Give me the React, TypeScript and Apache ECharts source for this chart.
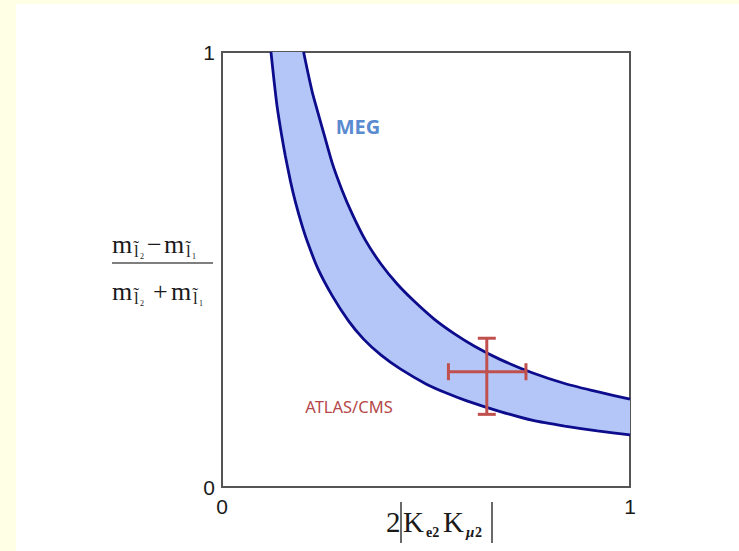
import { useEffect, useRef } from "react";
import * as echarts from "echarts";

// Axis ranges and the only tick values shown
const xTicks = [0, 1];
const yTicks = [0, 1];

// Inner (lower-left) edge of the MEG band: [2|Ke2 Kμ2|, mass ratio]
const megLower: [number, number][] = [
  [0.12, 1.0], [0.128, 0.93], [0.135, 0.875], [0.145, 0.815], [0.155, 0.762],
  [0.168, 0.702], [0.18, 0.655], [0.195, 0.605], [0.21, 0.562], [0.235, 0.502],
  [0.27, 0.44], [0.31, 0.382], [0.347, 0.34], [0.39, 0.303], [0.436, 0.272],
  [0.5, 0.237], [0.55, 0.216], [0.6, 0.198], [0.68, 0.174], [0.762, 0.153],
  [0.84, 0.14], [0.92, 0.129], [1.0, 0.12],
];

// Outer (upper-right) edge of the MEG band
const megUpper: [number, number][] = [
  [0.2, 1.0], [0.21, 0.955], [0.222, 0.905], [0.245, 0.828], [0.27, 0.745],
  [0.294, 0.683], [0.32, 0.626], [0.351, 0.568], [0.39, 0.512], [0.43, 0.466],
  [0.47, 0.428], [0.52, 0.386], [0.57, 0.352], [0.62, 0.323], [0.68, 0.294],
  [0.762, 0.262], [0.84, 0.238], [0.92, 0.219], [1.0, 0.202],
];

// ATLAS/CMS point: [x, y, xLow, xHigh, yLow, yHigh]
const atlasCms: number[][] = [[0.649, 0.265, 0.555, 0.745, 0.167, 0.342]];

const SERIF = '"Liberation Serif", "Times New Roman", serif';
const SANS = '"Liberation Sans", Arial, sans-serif';

function txt(
  text: string,
  x: number,
  y: number,
  size: number,
  extra: Record<string, any> = {}
) {
  const align = extra.align || "left";
  return {
    type: "text",
    x,
    y,
    z: 100,
    silent: true,
    style: {
      text,
      fill: extra.fill || "#1a1a1a",
      fontSize: size,
      fontFamily: extra.fontFamily || SERIF,
      fontWeight: extra.fontWeight || "normal",
      fontStyle: extra.fontStyle || "normal",
      align,
      textAlign: align,
      verticalAlign: "middle",
      textVerticalAlign: "middle",
    },
  };
}

function vbar(x: number, y1: number, y2: number) {
  return {
    type: "line",
    z: 100,
    silent: true,
    shape: { x1: x, y1, x2: x, y2 },
    style: { stroke: "#1a1a1a", lineWidth: 1.3 },
  };
}

// m with a tilde-l subscript and a tiny index
function massTerm(x: number, cy: number, idx: string) {
  return [
    txt("m", x, cy, 26),
    txt("l\u0303", x + 22, cy + 7, 17),
    txt(idx, x + 28, cy + 12, 8),
  ];
}

export default function App() {
  const ref = useRef<HTMLDivElement>(null);

  useEffect(() => {
    if (!ref.current) return;
    const chart = echarts.init(ref.current, undefined, { renderer: "svg" });

    const axisLabel = {
      fontSize: 21,
      color: "#1a1a1a",
      fontFamily: SANS,
    };

    chart.setOption({
      animation: false,
      backgroundColor: "#FFFFE6",
      grid: {
        left: 222,
        top: 52,
        width: 408,
        height: 435,
        show: true,
        borderColor: "#555555",
        borderWidth: 2,
        backgroundColor: "transparent",
      },
      xAxis: {
        type: "value",
        min: xTicks[0],
        max: xTicks[1],
        interval: 1,
        axisLine: { show: false },
        axisTick: { show: false },
        splitLine: { show: false },
        axisLabel: { ...axisLabel, margin: 9 },
      },
      yAxis: {
        type: "value",
        min: yTicks[0],
        max: yTicks[1],
        interval: 1,
        axisLine: { show: false },
        axisTick: { show: false },
        splitLine: { show: false },
        axisLabel: { ...axisLabel, margin: 7 },
      },
      series: [
        {
          type: "custom",
          name: "MEG band",
          silent: true,
          clip: true,
          z: 2,
          data: [[0, 0]],
          renderItem: (_params: any, api: any) => {
            const pts = megLower
              .concat([...megUpper].reverse())
              .map((p) => api.coord(p));
            return {
              type: "polygon",
              shape: { points: pts },
              style: { fill: "#B3C6F7", stroke: "none" },
            };
          },
        },
        {
          type: "line",
          name: "MEG lower",
          data: megLower,
          showSymbol: false,
          smooth: 0.2,
          silent: true,
          z: 3,
          lineStyle: { color: "#0C0C8C", width: 2.8 },
        },
        {
          type: "line",
          name: "MEG upper",
          data: megUpper,
          showSymbol: false,
          smooth: 0.2,
          silent: true,
          z: 3,
          lineStyle: { color: "#0C0C8C", width: 2.8 },
        },
        {
          type: "custom",
          name: "ATLAS/CMS",
          silent: true,
          z: 4,
          data: atlasCms,
          encode: { x: 0, y: 1 },
          renderItem: (_params: any, api: any) => {
            const cx = api.value(0);
            const cy = api.value(1);
            const l = api.coord([api.value(2), cy]);
            const r = api.coord([api.value(3), cy]);
            const b = api.coord([cx, api.value(4)]);
            const t = api.coord([cx, api.value(5)]);
            const style = { stroke: "#C0504D", lineWidth: 3 };
            const capH = 8.5;
            const capV = 9;
            return {
              type: "group",
              children: [
                { type: "line", shape: { x1: l[0], y1: l[1], x2: r[0], y2: r[1] }, style },
                { type: "line", shape: { x1: b[0], y1: b[1], x2: t[0], y2: t[1] }, style },
                { type: "line", shape: { x1: l[0], y1: l[1] - capH, x2: l[0], y2: l[1] + capH }, style },
                { type: "line", shape: { x1: r[0], y1: r[1] - capH, x2: r[0], y2: r[1] + capH }, style },
                { type: "line", shape: { x1: t[0] - capV, y1: t[1], x2: t[0] + capV, y2: t[1] }, style },
                { type: "line", shape: { x1: b[0] - capV, y1: b[1], x2: b[0] + capV, y2: b[1] }, style },
              ],
            };
          },
        },
      ],
      graphic: [
        {
          type: "rect",
          z: -10,
          silent: true,
          shape: { x: 16, y: 4, width: 723, height: 547 },
          style: { fill: "#FFFFFF" },
        },
        txt("MEG", 358, 126, 20, {
          align: "center",
          fill: "#5A8AD0",
          fontWeight: "bold",
          fontFamily: '"Noto Sans", sans-serif',
        }),
        txt("ATLAS/CMS", 349, 406, 16.5, {
          align: "center",
          fill: "#B5484A",
          fontFamily: '"Noto Sans", sans-serif',
        }),
        // y-axis title: mass-splitting ratio
        ...massTerm(112, 244, "2"),
        txt("\u2212", 147, 244, 26),
        ...massTerm(164, 244, "1"),
        {
          type: "line",
          z: 100,
          silent: true,
          shape: { x1: 112, y1: 263, x2: 213, y2: 263 },
          style: { stroke: "#555555", lineWidth: 1.5 },
        },
        ...massTerm(112, 291, "2"),
        txt("+", 153, 291, 26),
        ...massTerm(171, 291, "1"),
        // x-axis title: 2|Ke2 Kμ2|
        txt("2", 386, 522, 29),
        vbar(401, 502, 543),
        txt("K", 403, 522, 29),
        txt("e2", 426, 532, 14, { fontWeight: "bold" }),
        txt("K", 443, 522, 29),
        txt("\u03bc", 466, 532, 15, { fontStyle: "italic", fontWeight: "bold" }),
        txt("2", 475, 532, 14, { fontWeight: "bold" }),
        vbar(492, 502, 543),
      ],
    });

    return () => chart.dispose();
  }, []);

  return (
    <div
      ref={ref}
      style={{ position: "absolute", left: 0, top: 0, width: 739, height: 551 }}
    />
  );
}
